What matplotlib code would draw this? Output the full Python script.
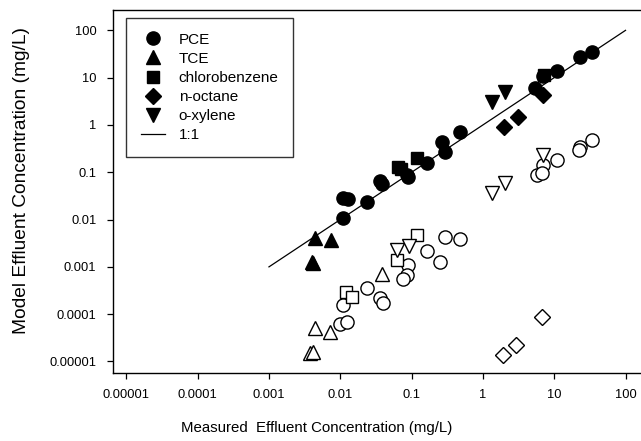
import matplotlib
matplotlib.use("Agg")
import matplotlib.pyplot as plt
from matplotlib.lines import Line2D

plt.rcParams['font.family'] = ['Liberation Sans', 'DejaVu Sans']

# ---- data (measured x, model y), mg/L ----
pce_x = [33.6, 23, 10.8, 7.0, 5.4, 0.478, 0.264, 0.294, 0.163, 0.085, 0.088, 0.036, 0.038, 0.011, 0.0129, 0.0234, 0.011]
pce_y = [35.5, 27, 13.9, 10.9, 6.0, 0.72, 0.444, 0.272, 0.155, 0.088, 0.078, 0.0655, 0.057, 0.028, 0.027, 0.0239, 0.011]
tce_x = [0.00442, 0.00733, 0.00397, 0.0042]
tce_y = [0.00403, 0.0037, 0.00129, 0.00119]
cb_x = [0.065, 0.118, 0.072, 7.3]
cb_y = [0.131, 0.198, 0.115, 11.5]
oct_x = [1.98, 3.14, 7.0]
oct_y = [0.92, 1.5, 4.3]
xyl_x = [1.33, 2.04]
xyl_y = [3.11, 5.06]

pce2_x = [33.6, 23, 22, 10.8, 7.0, 5.69, 6.68, 0.294, 0.478, 0.163, 0.25, 0.09, 0.085, 0.0766, 0.0234, 0.036, 0.0394, 0.011, 0.0099, 0.0125]
pce2_y = [0.482, 0.348, 0.3, 0.182, 0.143, 0.088, 0.095, 0.00423, 0.00383, 0.0022, 0.00129, 0.0011, 0.00067, 0.00055, 0.000353, 0.000217, 0.00017, 0.000156, 0.000062, 0.0000693]
tce2_x = [0.0381, 0.00442, 0.00718, 0.00376, 0.00408]
tce2_y = [0.00071, 0.0000504, 0.0000427, 0.0000149, 0.0000161]
cb2_x = [0.118, 0.0618, 0.012, 0.0145]
cb2_y = [0.00472, 0.0014, 0.000299, 0.000234]
oct2_x = [6.68, 2.91, 1.9]
oct2_y = [0.0000885, 0.0000223, 0.0000137]
xyl2_x = [7.0, 2.04, 1.33, 0.0618, 0.093]
xyl2_y = [0.232, 0.0585, 0.036, 0.00227, 0.00277]

line_x = [0.001, 100]

ticks = [1e-5, 1e-4, 1e-3, 1e-2, 1e-1, 1, 10, 100]
tick_labels = ['0.00001', '0.0001', '0.001', '0.01', '0.1', '1', '10', '100']

fig = plt.figure(figsize=(6.41, 4.41), dpi=100)
ax = fig.add_axes([113/641, (441-372.5)/441, (647-113)/641, (372.5-10)/441])
ax.set_xscale('log')
ax.set_yscale('log')
ax.set_xlim(6.5e-6, 200)
ax.set_ylim(5.85e-6, 269)

ms = 9.5
ms_d = 8.5
ax.plot(line_x, line_x, color='black', lw=0.9, zorder=2, label='1:1')

open_kw = dict(ls='none', mfc='white', mec='black', mew=1.0, ms=ms, zorder=3)
ax.plot(pce2_x, pce2_y, marker='o', **open_kw)
ax.plot(tce2_x, tce2_y, marker='^', **open_kw)
ax.plot(cb2_x, cb2_y, marker='s', **dict(open_kw, ms=8.5))
ax.plot(oct2_x, oct2_y, marker='D', **dict(open_kw, ms=ms_d))
ax.plot(xyl2_x, xyl2_y, marker='v', **open_kw)

fill_kw = dict(ls='none', color='black', ms=ms, zorder=4)
ax.plot(pce_x, pce_y, marker='o', **fill_kw)
ax.plot(tce_x, tce_y, marker='^', **fill_kw)
ax.plot(cb_x, cb_y, marker='s', **dict(fill_kw, ms=8.5))
ax.plot(oct_x, oct_y, marker='D', **dict(fill_kw, ms=ms_d))
ax.plot(xyl_x, xyl_y, marker='v', **fill_kw)

ax.xaxis.set_major_locator(matplotlib.ticker.FixedLocator(ticks))
ax.yaxis.set_major_locator(matplotlib.ticker.FixedLocator(ticks))
ax.xaxis.set_minor_locator(matplotlib.ticker.NullLocator())
ax.yaxis.set_minor_locator(matplotlib.ticker.NullLocator())
ax.set_xticklabels(tick_labels)
ax.set_yticklabels(tick_labels)
ax.tick_params(direction='out', length=4, width=0.9, labelsize=9.3, pad=8, colors='black')
for s in ax.spines.values():
    s.set_linewidth(1.0)
ax.spines['right'].set_visible(False)

fig.text(317/641, 1 - 428/441, 'Measured  Effluent Concentration (mg/L)',
         fontsize=10.8, ha='center', va='center')
fig.text(22/641, 1 - 181/441, 'Model Effluent Concentration (mg/L)',
         fontsize=13.8, ha='center', va='center', rotation=90)

handles = [
    Line2D([], [], ls='none', marker='o', color='black', ms=ms),
    Line2D([], [], ls='none', marker='^', color='black', ms=ms),
    Line2D([], [], ls='none', marker='s', color='black', ms=8.5),
    Line2D([], [], ls='none', marker='D', color='black', ms=ms_d),
    Line2D([], [], ls='none', marker='v', color='black', ms=ms),
    Line2D([], [], color='black', lw=0.9),
]
labels = ['PCE', 'TCE', 'chlorobenzene', 'n-octane', 'o-xylene', '1:1']
leg = ax.legend(handles, labels, loc='upper left', bbox_to_anchor=(13/534, 1 - 8/362.5),
                fontsize=11, frameon=True, fancybox=False, edgecolor='black',
                handlelength=1.6, handletextpad=0.9, labelspacing=0.34,
                borderpad=0.95, borderaxespad=0)
leg.get_frame().set_linewidth(1.0)

fig.savefig('out.png', dpi=100)
